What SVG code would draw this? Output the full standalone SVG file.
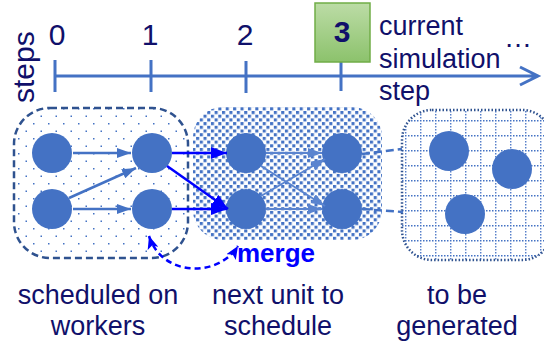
<svg xmlns="http://www.w3.org/2000/svg" width="544" height="345" viewBox="0 0 544 345">
<style>
.t{font-family:"Liberation Sans",Arial,sans-serif;fill:#10106a}
.ax{stroke:#4472c4;stroke-width:3;fill:none}
.nd{fill:#4472c4}
.c1{stroke:#4472c4;stroke-width:2.5;fill:none;marker-end:url(#ah1)}
.c2{stroke:#0000ff;stroke-width:2.5;fill:none;marker-end:url(#ah2)}
.c3{stroke:#5a84cf;stroke-width:2;fill:none;marker-end:url(#ah3)}
.dl{stroke:#4472c4;stroke-width:2.5;stroke-dasharray:8 4;fill:none}
</style>
<defs>
<pattern id="dots" width="15" height="15" patternUnits="userSpaceOnUse">
<rect x="3" y="3" width="1.5" height="1.5" fill="#4472c4"/>
<rect x="10.5" y="10.5" width="1.5" height="1.5" fill="#4472c4"/>
</pattern>
<pattern id="chk" width="7.4" height="7.4" patternUnits="userSpaceOnUse">
<rect x="0" y="0" width="3.1" height="3.1" fill="#4472c4"/>
<rect x="3.7" y="3.7" width="3.1" height="3.1" fill="#4472c4"/>
</pattern>
<pattern id="grid" width="15" height="15" patternUnits="userSpaceOnUse">
<path d="M0 0.75H15M0.75 0V15" stroke="#4472c4" stroke-width="1.3" stroke-dasharray="1.5 1.5"/>
</pattern>
<linearGradient id="gr" x1="0" y1="0" x2="0" y2="1">
<stop offset="0" stop-color="#bcdca6"/>
<stop offset="1" stop-color="#8cc26c"/>
</linearGradient>
<marker id="ah1" viewBox="0 0 14 10" refX="14" refY="5" markerWidth="14" markerHeight="10" markerUnits="userSpaceOnUse" orient="auto"><path d="M0 0L14 5L0 10z" fill="#4472c4"/></marker>
<marker id="ah2" viewBox="0 0 16 12" refX="16" refY="6" markerWidth="16" markerHeight="12" markerUnits="userSpaceOnUse" orient="auto"><path d="M0 0L16 6L0 12z" fill="#0000ff"/></marker>
<marker id="ah3" viewBox="0 0 14 10" refX="14" refY="5" markerWidth="14" markerHeight="10" markerUnits="userSpaceOnUse" orient="auto"><path d="M0 0L14 5L0 10z" fill="#5a84cf"/></marker>
<marker id="ah4" viewBox="0 0 13 11" refX="13" refY="5.5" markerWidth="13" markerHeight="11" markerUnits="userSpaceOnUse" orient="auto-start-reverse"><path d="M0 0L13 5.5L0 11L3 5.5z" fill="#0000ff"/></marker>
</defs>

<g id="axis">
<path class="ax" d="M55 76H538M520 67L538 76L520 85"/>
<path class="ax" d="M55 60V92M151 60V92M246 61V93M341 62V91"/>
<text class="t" x="57" y="45" font-size="30" text-anchor="middle">0</text>
<text class="t" x="150" y="45" font-size="30" text-anchor="middle">1</text>
<text class="t" x="245" y="45" font-size="30" text-anchor="middle">2</text>
<text class="t" x="0" y="0" font-size="30" transform="translate(34 103) rotate(-90)">steps</text>
<text class="t" x="504" y="47" font-size="28">…</text>
</g>

<g id="current">
<rect x="315" y="3" width="55" height="59" fill="url(#gr)" stroke="#70ad47" stroke-width="1.5"/>
<text class="t" x="342" y="42" font-size="30" font-weight="bold" text-anchor="middle">3</text>
<text class="t" x="379" y="35" font-size="27">current</text>
<text class="t" x="379" y="68" font-size="27">simulation</text>
<text class="t" x="379" y="100" font-size="27">step</text>
</g>

<g id="scheduled">
<rect x="14" y="108" width="174" height="150" rx="36" fill="url(#dots)" stroke="#2f528f" stroke-width="2.5" stroke-dasharray="7 4"/>
<circle class="nd" cx="52" cy="153" r="20"/>
<circle class="nd" cx="52" cy="209" r="20"/>
<circle class="nd" cx="152" cy="153" r="20"/>
<circle class="nd" cx="152" cy="209" r="20"/>
<text class="t" x="98" y="304" font-size="27" text-anchor="middle">scheduled on</text>
<text class="t" x="98" y="335" font-size="27" text-anchor="middle">workers</text>
</g>

<g id="next">
<rect x="193" y="107" width="189" height="133" rx="30" fill="url(#chk)"/>
<circle class="nd" cx="246" cy="153" r="20"/>
<circle class="nd" cx="246" cy="209" r="20"/>
<circle class="nd" cx="342" cy="153" r="20"/>
<circle class="nd" cx="342" cy="209" r="20"/>
<text class="t" x="278" y="304" font-size="27" text-anchor="middle">next unit to</text>
<text class="t" x="278" y="335" font-size="27" text-anchor="middle">schedule</text>
</g>

<g id="future">
<rect x="402" y="110" width="150" height="150" rx="30" fill="url(#grid)" stroke="#2f528f" stroke-width="2.5" stroke-dasharray="1.5 2"/>
<circle class="nd" cx="449" cy="151" r="20"/>
<circle class="nd" cx="512" cy="169" r="20"/>
<circle class="nd" cx="465" cy="214" r="20"/>
<text class="t" x="457" y="304" font-size="27" text-anchor="middle">to be</text>
<text class="t" x="457" y="335" font-size="27" text-anchor="middle">generated</text>
</g>

<g id="connectors">
<path class="c1" d="M73 153H131"/>
<path class="c1" d="M73 209H131"/>
<path class="c1" d="M69 198L136 168"/>
<path class="c2" d="M172 153H227"/>
<path class="c2" d="M172 209H227"/>
<path class="c2" d="M167 166L228 209"/>
<path class="c3" d="M266 153H322"/>
<path class="c3" d="M266 209H322"/>
<path class="c3" d="M261 166L325 206"/>
<path class="c3" d="M261 196L325 159"/>
<path class="dl" d="M362 154L402 149"/>
<path class="dl" d="M362 209L403 212"/>
<path d="M149 236C162 277 218 278 238 246" fill="none" stroke="#0000ff" stroke-width="2.5" stroke-dasharray="6 4" marker-start="url(#ah4)" marker-end="url(#ah4)"/>
<text x="237" y="262" font-family="Liberation Sans,Arial,sans-serif" font-size="26" font-weight="bold" fill="#0000ff">merge</text>
</g>
</svg>
